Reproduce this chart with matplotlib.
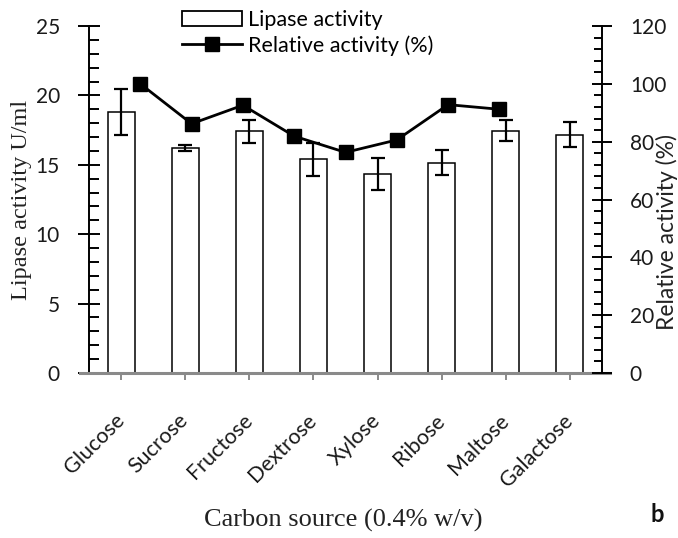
import matplotlib.pyplot as plt
from matplotlib.ticker import MultipleLocator
from matplotlib.patches import Patch
from matplotlib.lines import Line2D

sources = ["Glucose", "Sucrose", "Fructose", "Dextrose", "Xylose", "Ribose", "Maltose", "Galactose"]
lipase = [18.8, 16.2, 17.4, 15.4, 14.35, 15.15, 17.45, 17.15]
lipase_err = [1.65, 0.2, 0.8, 1.2, 1.15, 0.9, 0.75, 0.9]
relative = [100, 86.2, 92.6, 81.9, 76.3, 80.6, 92.8, 91.2]

SANS = "Lato"
SERIF = "Liberation Serif"
TXT = "#1a1a1a"
GRAY = "#8a8a8a"

fig = plt.figure(figsize=(6.78, 5.38), dpi=100)
pos = [89 / 678, 1 - 373 / 538, (602 - 89) / 678, (373 - 26) / 538]

# --- bars (primary axes) ---
ax = fig.add_axes(pos)
ax.bar(sources, lipase, width=0.42, color="white", edgecolor="black", linewidth=1.1, zorder=2)
ax.errorbar(sources, lipase, yerr=lipase_err, fmt="none", ecolor="black",
            elinewidth=1.6, capsize=5, capthick=1.6, zorder=3)
ax.set_xlim(-0.5, 7.5)
ax.set_ylim(0, 25)
ax.yaxis.set_major_locator(MultipleLocator(5))
ax.yaxis.set_minor_locator(MultipleLocator(1))
for s in ["top", "right"]:
    ax.spines[s].set_visible(False)
ax.spines["left"].set_linewidth(1.4)
ax.spines["bottom"].set_visible(False)
ax.axhline(0, xmin=-0.018, xmax=1.016, color=GRAY, linewidth=2.2, clip_on=False, zorder=4)
ax.tick_params(axis="y", which="major", direction="inout", length=16, width=1.4,
               pad=13, labelsize=15, labelcolor=TXT)
ax.tick_params(axis="y", which="minor", direction="in", length=7, width=1.4)
ax.tick_params(axis="x", which="major", direction="inout", length=10, width=1.4,
               color=GRAY, pad=27, labelsize=15.5, labelcolor=TXT)
ax.set_xticks(range(len(sources)))
ax.set_xticklabels(sources, rotation=45, ha="right", va="center", rotation_mode="anchor", fontfamily=SANS)
for lab in ax.get_yticklabels():
    lab.set_fontfamily(SANS)

# --- line on its own (secondary) category axis ---
ax2 = fig.add_axes(pos)
ax2.patch.set_visible(False)
ax2.plot(sources, relative, color="black", linewidth=2, marker="s", markersize=10, zorder=5)
ax2.set_xlim(-1, 9)
ax2.set_ylim(0, 120)
ax2.xaxis.set_visible(False)
for s in ["top", "left", "bottom"]:
    ax2.spines[s].set_visible(False)
ax2.spines["right"].set_linewidth(1.4)
ax2.yaxis.tick_right()
ax2.yaxis.set_major_locator(MultipleLocator(20))
ax2.yaxis.set_minor_locator(MultipleLocator(4))
ax2.tick_params(axis="y", which="major", direction="inout", length=14, width=1.4,
                pad=13, labelsize=15, labelcolor=TXT)
ax2.tick_params(axis="y", which="minor", direction="in", length=6, width=1.4)
for lab in ax2.get_yticklabels():
    lab.set_fontfamily(SANS)

# --- axis titles ---
fig.text(22 / 678, 1 - 200 / 538, "Lipase activity U/ml", rotation=90, ha="center", va="center",
         fontfamily=SERIF, fontsize=17.5, color="#222222")
fig.text(666.5 / 678, 1 - 232 / 538, "Relative activity (%)", rotation=90, ha="center", va="center",
         fontfamily=SANS, fontsize=16.5, color="#222222")
fig.text(343 / 678, 1 - 520 / 538, "Carbon source (0.4% w/v)", ha="center", va="center",
         fontfamily=SERIF, fontsize=19, color="#222222")
fig.text(657 / 678, 1 - 515 / 538, "b", ha="center", va="center",
         fontfamily=SANS, fontsize=17, fontweight="bold", color="#111111")

# --- legend ---
handles = [Patch(facecolor="white", edgecolor="black", linewidth=1.3),
           Line2D([], [], color="black", linewidth=2, marker="s", markersize=10)]
fig.legend(handles, ["Lipase activity", "Relative activity (%)"], loc="upper left",
           bbox_to_anchor=(182 / 678, 1 - 10 / 538), frameon=False, borderpad=0,
           borderaxespad=0, handlelength=2.8, handletextpad=0.28, labelspacing=0.25,
           prop={"family": SANS, "size": 15.5})

fig.savefig("out.png", dpi=100)
